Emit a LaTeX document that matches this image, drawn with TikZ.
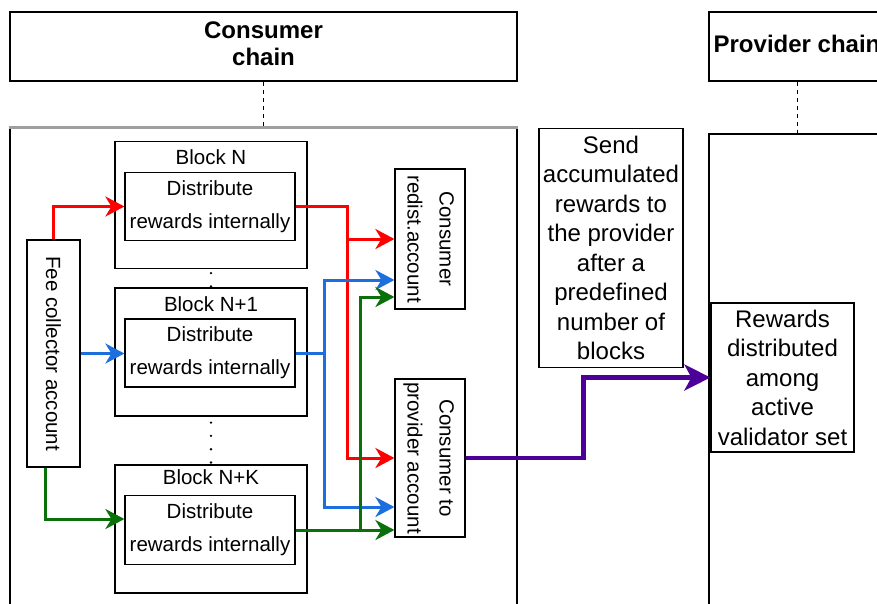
\documentclass[tikz,border=0pt]{standalone}
\usepackage{fontspec}
\setmainfont{Liberation Sans}
\usetikzlibrary{arrows.meta,calc}

\definecolor{cRed}{HTML}{FF0000}
\definecolor{cBlue}{HTML}{1C6FDC}
\definecolor{cGreen}{HTML}{0A700A}
\definecolor{cPurple}{HTML}{4C0099}

\newcommand\blkfont{\fontsize{20.5}{33}\selectfont}
\newcommand\acctfont{\fontsize{20.5}{32}\selectfont}
\newcommand\hdrfont{\fontsize{24}{27.5}\selectfont\bfseries}
\newcommand\notefont{\fontsize{24}{29.5}\selectfont}

\begin{document}
\begin{tikzpicture}[x=1pt,y=-1pt,
  box/.style={draw, rectangle, inner sep=0pt, line width=1.2pt, fill=white},
  wire/.style={line width=3pt},
  flow/.style={wire, -{Stealth[length=19pt,width=20pt,inset=6pt]}},
  bigflow/.style={line width=4.5pt, -{Stealth[length=26pt,width=26pt,inset=7pt]}},
  lifelink/.style={line width=1pt, dash pattern=on 4pt off 4pt},
  blockdots/.style={line width=2.6pt, line cap=round, dash pattern=on 0pt off 13.3pt},
  blocklabel/.style={font=\blkfont, anchor=center, inner sep=0pt},
]
\useasboundingbox (0,0) rectangle (877,603);
\clip (0,0) rectangle (877,603);
\fill[white] (0,0) rectangle (877,603);

% lifelines and their headers
\node[box, minimum width=507pt, minimum height=512pt] (consL) at (263.5,384) {};
\draw[gray!75, line width=2.2pt] (consL.north west) -- (consL.north east);
\node[box, minimum width=211pt, minimum height=506pt] (provL) at (814.5,387) {};
\node[box, minimum width=507pt, minimum height=69pt] (consH) at (263.5,46.5) {};
\node[font=\hdrfont, align=center, inner sep=0pt] (consT) at (263.5,43.5) {Consumer\\chain};
\node[box, minimum width=176pt, minimum height=69pt] (provH) at (797,46.5) {};
\node[font=\hdrfont, inner sep=0pt] (provT) at (797,44) {Provider chain};
\draw[lifelink] (consH.south) -- (consL.north);
\draw[lifelink] (provH.south) -- (provH.south |- provL.north);

% blocks on the consumer chain
\node[box, minimum width=192pt, minimum height=127pt,
  label={[blocklabel, yshift=-16pt]north:Block N}] (blockN) at (211,205) {};
\node[box, minimum width=170pt, minimum height=68pt, font=\blkfont, align=center] (innerN) at (210,206.5) {Distribute\\rewards internally};
\node[box, minimum width=192pt, minimum height=128pt,
  label={[blocklabel, yshift=-17pt]north:Block N+1}] (blockN1) at (211,352) {};
\node[box, minimum width=170pt, minimum height=68pt, font=\blkfont, align=center] (innerN1) at (210,353) {Distribute\\rewards internally};
\node[box, minimum width=192pt, minimum height=128pt,
  label={[blocklabel, yshift=-13pt]north:Block N+K}] (blockNK) at (211,529) {};
\node[box, minimum width=170pt, minimum height=69pt, font=\blkfont, align=center] (innerNK) at (210,530) {Distribute\\rewards internally};
\draw[blockdots, dash phase=9.3pt] (blockN.south) -- (blockN1.north);
\draw[blockdots, dash phase=7.3pt] (blockN1.south) -- (blockNK.north);

% accounts
\node[box, minimum width=53pt, minimum height=227pt, font=\acctfont] (fee) at (53.5,353.5)
  {\rotatebox{-90}{Fee collector account}};
\node[box, minimum width=70pt, minimum height=140pt, font=\acctfont] (redist) at (430,239)
  {\rotatebox{-90}{\begin{tabular}{@{}c@{}}Consumer\\redist.account\end{tabular}}};
\node[box, minimum width=70pt, minimum height=158pt, font=\acctfont] (c2p) at (430,458)
  {\rotatebox{-90}{\begin{tabular}{@{}c@{}}Consumer to\\provider account\end{tabular}}};

% notes
\node[box, minimum width=144pt, minimum height=239pt, font=\notefont, align=center] (send) at (611,248)
  {Send\\accumulated\\rewards to\\the provider\\after a\\predefined\\number of\\blocks};
\node[box, minimum width=143pt, minimum height=149pt, font=\notefont, align=center] (rewards) at (782.5,377.5)
  {Rewards\\distributed\\among\\active\\validator set};

% block N (red)
\draw[flow, cRed] (fee.north) |- (innerN.west);
\draw[wire, cRed] (innerN.east) -| ($(redist.west)+(-47,0)$);
\draw[flow, cRed] ($(redist.west)+(-48.5,0)$) -- (redist.west);
\draw[flow, cRed] ($(redist.west)+(-47,0)$) |- (c2p.west);

% block N+1 (blue)
\draw[flow, cBlue] (fee.east) -- (fee.east -| innerN1.west);
\draw[wire, cBlue] (innerN1.east) -| ($(redist.west)+(-70,41)$);
\draw[flow, cBlue] ($(redist.west)+(-71.5,41)$) -- ($(redist.west)+(0,41)$);
\draw[flow, cBlue] ($(redist.west)+(-70,41)$) |- ($(c2p.west)+(0,49)$);

% block N+K (green)
\draw[flow, cGreen] ($(fee.south)+(-8,0)$) |- ($(innerNK.west)+(0,-11)$);
\draw[flow, cGreen] (innerNK.east) -- (innerNK.east -| c2p.west);
\draw[flow, cGreen] ($(innerNK.east)+(65,0)$) |- ($(redist.west)+(0,58)$);

% transfer to the provider chain
\draw[bigflow, cPurple] (c2p.east) -| ($(c2p.east)+(118,-40)$) |- (rewards.west);
\end{tikzpicture}
\end{document}
